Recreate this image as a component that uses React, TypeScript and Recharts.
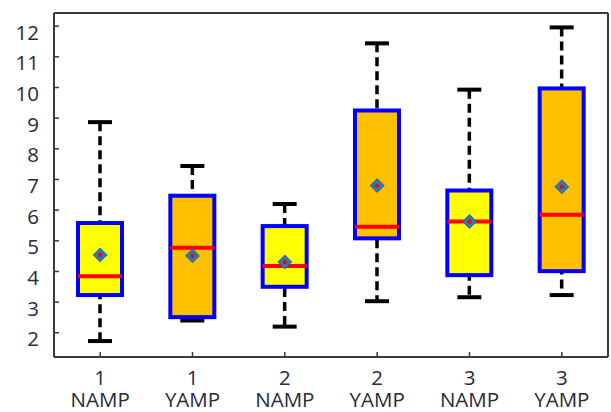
import { ComposedChart, Bar, Scatter, Line, XAxis, YAxis } from 'recharts';

document.body.style.margin = '0';

// categories
const groups = ['1', '1', '2', '2', '3', '3'];
const amps = ['NAMP', 'YAMP', 'NAMP', 'YAMP', 'NAMP', 'YAMP'];

// box statistics per category
const whiskerLow = [1.73, 2.4, 2.2, 3.03, 3.16, 3.23];
const q1 = [3.23, 2.51, 3.5, 5.08, 3.88, 4.01];
const medians = [3.84, 4.77, 4.18, 5.46, 5.63, 5.85];
const q3 = [5.58, 6.47, 5.48, 9.25, 6.64, 9.97];
const whiskerHigh = [8.87, 7.44, 6.2, 11.44, 9.93, 11.96];
const means = [4.54, 4.51, 4.31, 6.8, 5.63, 6.76];

const yTicks = [2, 3, 4, 5, 6, 7, 8, 9, 10, 11, 12];

const fillFor: Record<string, string> = { NAMP: '#ffff00', YAMP: '#ffc000' };

const data = groups.map((g, i) => ({
  name: `${g}|${amps[i]}`,
  range: [whiskerLow[i], whiskerHigh[i]],
  lo: whiskerLow[i],
  hi: whiskerHigh[i],
  q1: q1[i],
  q3: q3[i],
  median: medians[i],
  mean: means[i],
  amp: amps[i],
}));

const FONT = '"Open Sans", sans-serif';
const TEXT = '#2a2a3a';
const FRAME = '#3a3a3a';

function BoxShape(props: any) {
  const { x, y, width, height, payload } = props;
  if (height == null || isNaN(height)) return null;
  const cx = x + width / 2;
  const { lo, hi } = payload;
  // place box parts inside the whisker bar the axis already scaled
  const toY = (v: number) => y + (height * (hi - v)) / (hi - lo);
  const yQ3 = toY(payload.q3);
  const yQ1 = toY(payload.q1);
  const yMed = toY(payload.median);
  return (
    <g>
      <line x1={cx} x2={cx} y1={y} y2={y + height} stroke="#000" strokeWidth={3.5} strokeDasharray="9 5" />
      <line x1={cx - 12} x2={cx + 12} y1={y} y2={y} stroke="#000" strokeWidth={4} />
      <line x1={cx - 12} x2={cx + 12} y1={y + height} y2={y + height} stroke="#000" strokeWidth={4} />
      <rect x={x + 2} y={yQ3} width={width - 4} height={yQ1 - yQ3} fill={fillFor[payload.amp]} stroke="#0000ff" strokeWidth={4} />
      <line x1={x + 2} x2={x + width - 2} y1={yMed} y2={yMed} stroke="#ff0000" strokeWidth={4} />
    </g>
  );
}

function MeanShape(props: any) {
  const { cx, cy } = props;
  const r = 7;
  return (
    <g>
      <polygon
        points={`${cx},${cy - r} ${cx + r},${cy} ${cx},${cy + r} ${cx - r},${cy}`}
        fill="#2a7ab8"
        stroke="#1d5f94"
        strokeWidth={0.8}
      />
      <circle cx={cx} cy={cy} r={2.2} fill="#ff0000" />
    </g>
  );
}

function YTick(props: any) {
  const { x, y, payload } = props;
  return (
    <text x={x} y={y} dy={13.5} textAnchor="end" fontFamily={FONT} fontSize={20.5} fill={TEXT}>
      {payload.value}
    </text>
  );
}

function XTick(props: any) {
  const { x, payload } = props;
  const [g, a] = String(payload.value).split('|');
  return (
    <g>
      <text x={x} y={385} textAnchor="middle" fontFamily={FONT} fontSize={20.5} fill={TEXT}>
        {g}
      </text>
      <text x={x} y={407} textAnchor="middle" fontFamily={FONT} fontSize={20.5} fill={TEXT}>
        {a}
      </text>
    </g>
  );
}

export default function App() {
  return (
    <ComposedChart width={611} height={412} data={data} margin={{ top: 12, right: 2, bottom: 0, left: 0 }}>
      <XAxis
        dataKey="name"
        height={55}
        axisLine={{ stroke: FRAME, strokeWidth: 2 }}
        tickLine={{ stroke: FRAME, strokeWidth: 1.5 }}
        tickSize={-5}
        tickMargin={5}
        tick={<XTick />}
        interval={0}
      />
      <XAxis
        xAxisId="t"
        dataKey="name"
        orientation="top"
        height={1}
        axisLine={{ stroke: FRAME, strokeWidth: 2 }}
        tickLine={{ stroke: FRAME, strokeWidth: 1.5 }}
        tickSize={-5}
        tick={false}
        interval={0}
      />
      <YAxis
        type="number"
        width={54}
        domain={[1.21, 12.43]}
        allowDataOverflow
        ticks={yTicks}
        interval={0}
        axisLine={{ stroke: FRAME, strokeWidth: 2 }}
        tickLine={{ stroke: FRAME, strokeWidth: 1.5 }}
        tickSize={-5}
        tickMargin={20}
        tick={<YTick />}
      />
      <YAxis
        yAxisId="r"
        orientation="right"
        type="number"
        width={1}
        domain={[1.21, 12.43]}
        allowDataOverflow
        ticks={yTicks}
        interval={0}
        axisLine={{ stroke: FRAME, strokeWidth: 2 }}
        tickLine={{ stroke: FRAME, strokeWidth: 1.5 }}
        tickSize={-5}
        tick={false}
      />
      <Bar dataKey="range" barSize={48} shape={<BoxShape />} isAnimationActive={false} />
      <Scatter dataKey="mean" shape={<MeanShape />} isAnimationActive={false} />
      <Line
        xAxisId="t"
        yAxisId="r"
        dataKey="mean"
        stroke="none"
        dot={false}
        activeDot={false}
        legendType="none"
        isAnimationActive={false}
      />
    </ComposedChart>
  );
}
